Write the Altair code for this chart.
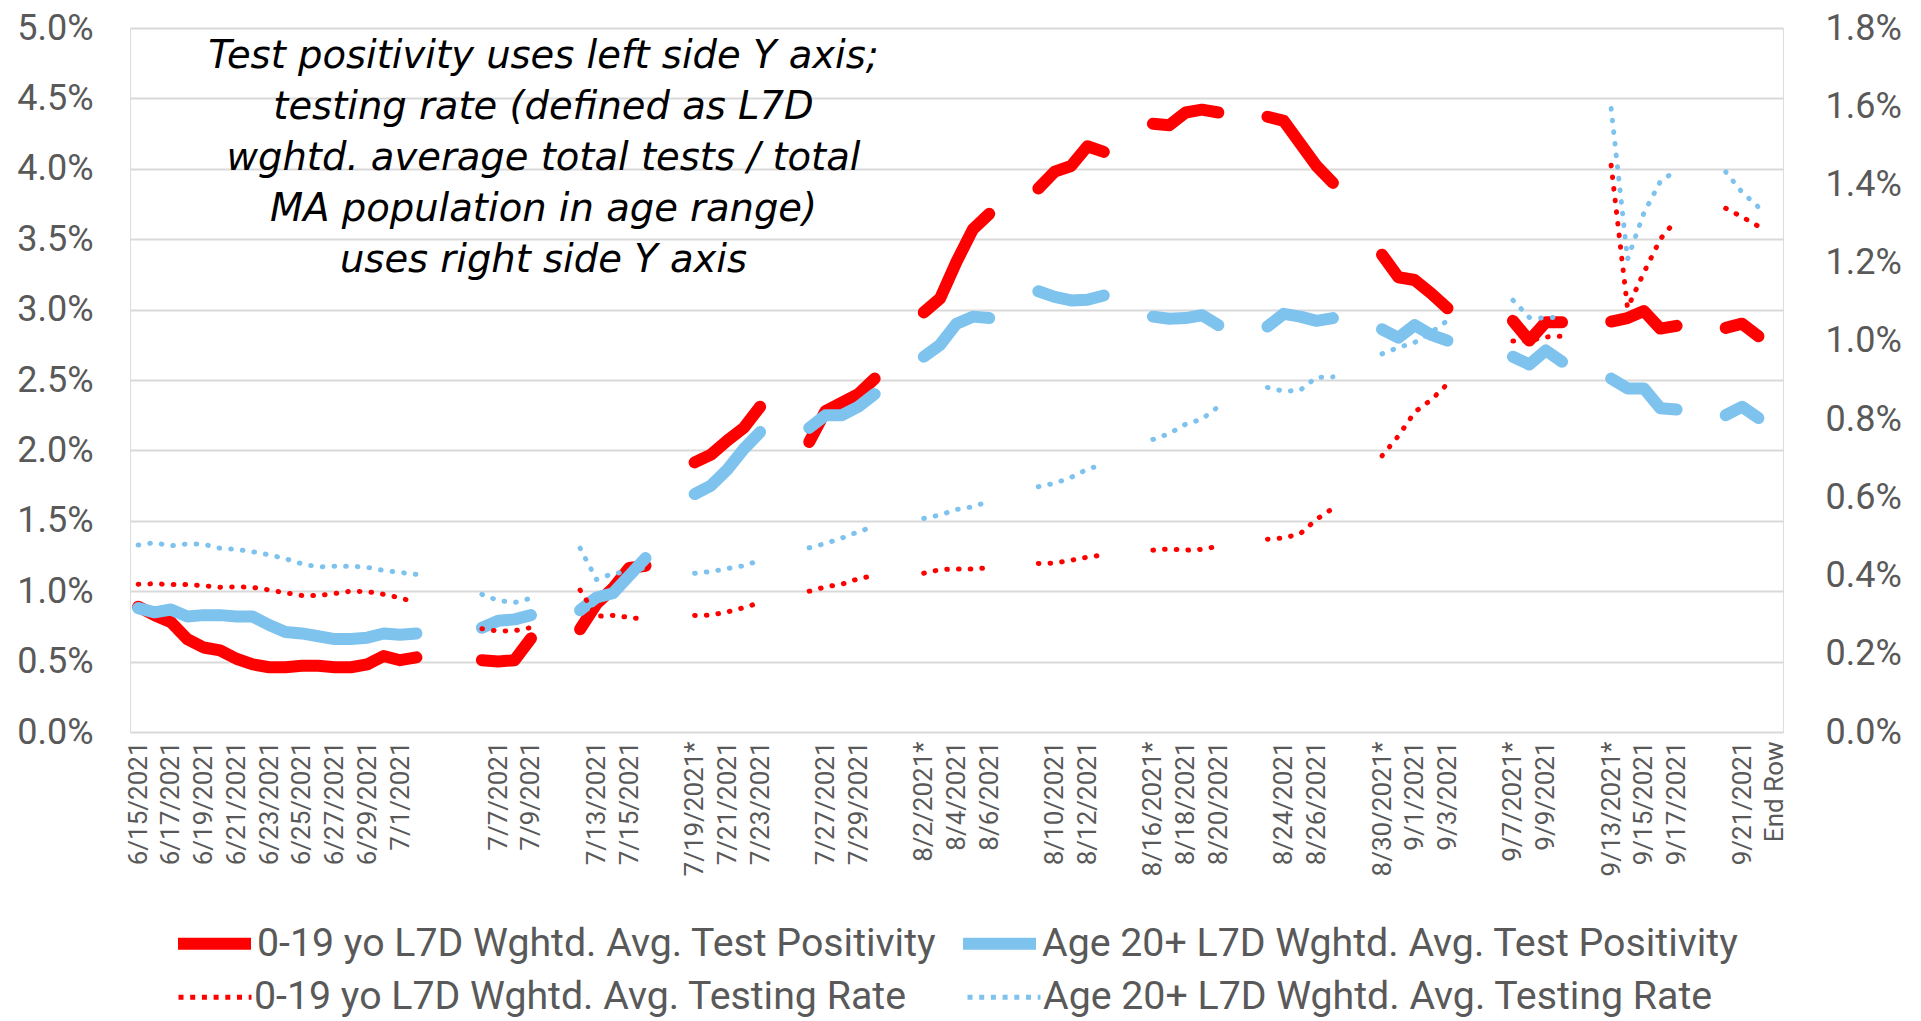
import json
import altair as alt
import pandas as pd

# ---------------- data ----------------
x_labels = [
    "6/15/2021", "6/16/2021", "6/17/2021", "6/18/2021", "6/19/2021", "6/20/2021",
    "6/21/2021", "6/22/2021", "6/23/2021", "6/24/2021", "6/25/2021", "6/26/2021",
    "6/27/2021", "6/28/2021", "6/29/2021", "6/30/2021", "7/1/2021", "7/2/2021",
    "", "", "",
    "7/6/2021", "7/7/2021", "7/8/2021", "7/9/2021",
    "", "",
    "7/12/2021", "7/13/2021", "7/14/2021", "7/15/2021", "7/16/2021",
    "", "",
    "7/19/2021*", "7/20/2021", "7/21/2021", "7/22/2021", "7/23/2021",
    "", "",
    "7/26/2021", "7/27/2021", "7/28/2021", "7/29/2021", "7/30/2021",
    "", "",
    "8/2/2021*", "8/3/2021", "8/4/2021", "8/5/2021", "8/6/2021",
    "", "",
    "8/9/2021", "8/10/2021", "8/11/2021", "8/12/2021", "8/13/2021",
    "", "",
    "8/16/2021*", "8/17/2021", "8/18/2021", "8/19/2021", "8/20/2021",
    "", "",
    "8/23/2021", "8/24/2021", "8/25/2021", "8/26/2021", "8/27/2021",
    "", "",
    "8/30/2021*", "8/31/2021", "9/1/2021", "9/2/2021", "9/3/2021",
    "", "", "",
    "9/7/2021*", "9/8/2021", "9/9/2021", "9/10/2021",
    "", "",
    "9/13/2021*", "9/14/2021", "9/15/2021", "9/16/2021", "9/17/2021",
    "", "",
    "9/20/2021", "9/21/2021", "9/22/2021",
    "End Row",
]

# 0-19 yo test positivity (%; left axis)
pos_0_19 = [
    0.89, 0.83, 0.78, 0.66, 0.60, 0.58, 0.52, 0.48, 0.46, 0.46, 0.47, 0.47, 0.46, 0.46, 0.48, 0.54, 0.51, 0.53,
    None, None, None,
    0.51, 0.50, 0.51, 0.665,
    None, None,
    0.73, 0.91, 1.02, 1.165, 1.18,
    None, None,
    1.915, 1.97, 2.07, 2.16, 2.31,
    None, None,
    2.06, 2.28, 2.34, 2.40, 2.51,
    None, None,
    2.98, 3.08, 3.34, 3.57, 3.68,
    None, None,
    3.86, 3.98, 4.02, 4.16, 4.12,
    None, None,
    4.32, 4.31, 4.40, 4.42, 4.40,
    None, None,
    4.37, 4.34, 4.18, 4.02, 3.90,
    None, None,
    3.39, 3.23, 3.21, 3.115, 3.01,
    None, None, None,
    2.92, 2.78, 2.91, 2.91,
    None, None,
    2.915, 2.94, 2.99, 2.865, 2.885,
    None, None,
    2.87, 2.90, 2.81,
    None,
]

# Age 20+ test positivity (%; left axis)
pos_20 = [
    0.88, 0.85, 0.87, 0.82, 0.83, 0.83, 0.82, 0.82, 0.76, 0.71, 0.70, 0.68, 0.66, 0.66, 0.67, 0.70, 0.69, 0.70,
    None, None, None,
    0.74, 0.79, 0.80, 0.83,
    None, None,
    0.865, 0.955, 0.985, 1.11, 1.235,
    None, None,
    1.69, 1.75, 1.865, 2.01, 2.13,
    None, None,
    2.16, 2.25, 2.25, 2.31, 2.40,
    None, None,
    2.665, 2.75, 2.90, 2.95, 2.94,
    None, None,
    3.13, 3.09, 3.065, 3.07, 3.10,
    None, None,
    2.95, 2.935, 2.94, 2.96, 2.89,
    None, None,
    2.88, 2.97, 2.95, 2.92, 2.94,
    None, None,
    2.86, 2.80, 2.89, 2.82, 2.78,
    None, None, None,
    2.665, 2.61, 2.71, 2.63,
    None, None,
    2.51, 2.44, 2.44, 2.30, 2.29,
    None, None,
    2.25, 2.31, 2.23,
    None,
]

# 0-19 yo testing rate (%; right axis)
rate_0_19 = [
    0.378, 0.379, 0.377, 0.377, 0.374, 0.370, 0.371, 0.370, 0.363, 0.356, 0.349, 0.349, 0.354, 0.360, 0.359, 0.352, 0.343, 0.331,
    None, None, None,
    0.264, 0.258, 0.259, 0.267,
    None, None,
    0.363, 0.296, 0.298, 0.293, 0.288,
    None, None,
    0.298, 0.299, 0.307, 0.318, 0.331,
    None, None,
    0.360, 0.371, 0.378, 0.392, 0.400,
    None, None,
    0.406, 0.415, 0.417, 0.417, 0.420,
    None, None,
    0.431, 0.432, 0.439, 0.447, 0.453,
    None, None,
    0.465, 0.468, 0.465, 0.467, 0.475,
    None, None,
    0.493, 0.496, 0.507, 0.544, 0.572,
    None, None,
    0.706, 0.757, 0.818, 0.849, 0.890,
    None, None, None,
    1.000, 1.000, 1.010, 1.012,
    None, None,
    1.449, 1.084, 1.175, 1.260, 1.310,
    None, None,
    1.339, 1.317, 1.293,
    None,
]

# Age 20+ testing rate (%; right axis)
rate_20 = [
    0.478, 0.484, 0.476, 0.481, 0.480, 0.470, 0.467, 0.461, 0.453, 0.443, 0.430, 0.422, 0.424, 0.424, 0.421, 0.413, 0.408, 0.403,
    None, None, None,
    0.352, 0.336, 0.331, 0.342,
    None, None,
    0.470, 0.390, 0.405, 0.410, 0.420,
    None, None,
    0.406, 0.410, 0.418, 0.425, 0.439,
    None, None,
    0.471, 0.482, 0.496, 0.512, 0.526,
    None, None,
    0.546, 0.555, 0.569, 0.576, 0.590,
    None, None,
    0.627, 0.636, 0.651, 0.672, 0.685,
    None, None,
    0.748, 0.763, 0.787, 0.800, 0.832,
    None, None,
    0.881, 0.871, 0.874, 0.907, 0.908,
    None, None,
    0.967, 0.983, 0.996, 1.022, 1.052,
    None, None, None,
    1.104, 1.060, 1.058, 1.062,
    None, None,
    1.594, 1.209, 1.327, 1.407, 1.437,
    None, None,
    1.432, 1.380, 1.342,
    None,
]

left_ticks = [0.0, 0.5, 1.0, 1.5, 2.0, 2.5, 3.0, 3.5, 4.0, 4.5, 5.0]
right_ticks = [0.0, 0.2, 0.4, 0.6, 0.8, 1.0, 1.2, 1.4, 1.6, 1.8]

S1 = "0-19 yo L7D Wghtd. Avg. Test Positivity"
S2 = "Age 20+ L7D Wghtd. Avg. Test Positivity"
S3 = "0-19 yo L7D Wghtd. Avg. Testing Rate"
S4 = "Age 20+ L7D Wghtd. Avg. Testing Rate"
RED = "#FF0000"
BLUE = "#7EC2EE"

note = ("Test positivity uses left side Y axis;\ntesting rate (defined as L7D\n"
        "wghtd. average total tests / total\nMA population in age range)\nuses right side Y axis")


def frame(name, values):
    rows = []
    seg = 0
    prev = None
    for i, v in enumerate(values):
        if v is None:
            continue
        if prev is None or i != prev + 1:
            seg += 1
        rows.append({"idx": i, "value": v, "seg": seg, "series": name})
        prev = i
    return pd.DataFrame(rows)


# ---------------- style ----------------
FONT = "Roboto"
GREY = "#595959"
W, H = 1653, 704
DOT_DASH = [0.6, 11.1]

label_array = json.dumps(x_labels)
x_enc = alt.X(
    "idx:O",
    scale=alt.Scale(type="point", domain=list(range(len(x_labels))), padding=0.5),
    axis=alt.Axis(
        title=None, labelAngle=270, labelFont=FONT, labelFontSize=26, labelColor=GREY,
        labelPadding=9, ticks=False, domain=False, grid=False, labelOverlap=False,
        labelExpr=f"datum.value % 2 == 0 ? {label_array}[datum.value] : ''",
    ),
)

legend_common = dict(
    title=None, orient="none", direction="horizontal", symbolType="stroke", symbolSize=5329,
    labelFont=FONT, labelFontSize=39.3, labelColor=GREY, labelLimit=0, padding=0,
)
legend_solid = alt.Legend(
    legendX=42, legendY=873, labelOffset=0, columnPadding=2, symbolStrokeWidth=12, **legend_common
)
legend_dot = alt.Legend(
    legendX=46, legendY=930, labelOffset=0, columnPadding=50, symbolStrokeWidth=5,
    symbolDash=[5, 6.7], **legend_common
)

color_solid = alt.Color("series:N", scale=alt.Scale(domain=[S1, S2], range=[RED, BLUE]), legend=legend_solid)
color_dot = alt.Color("series:N", scale=alt.Scale(domain=[S3, S4], range=[RED, BLUE]), legend=legend_dot)

left_axis = alt.Axis(
    title=None, orient="left", values=left_ticks, labelExpr="format(datum.value, '.1f') + '%'",
    grid=True, gridColor="#D9D9D9", gridWidth=2, domain=False, ticks=False,
    labelFont=FONT, labelFontSize=36, labelColor=GREY, labelPadding=37,
)
right_axis = alt.Axis(
    title=None, orient="right", values=right_ticks, labelExpr="format(datum.value, '.1f') + '%'",
    grid=False, domain=False, ticks=False,
    labelFont=FONT, labelFontSize=36, labelColor=GREY, labelPadding=42,
)


def solid_line(name, values):
    return alt.Chart(frame(name, values)).mark_line(
        strokeWidth=12, strokeCap="round", strokeJoin="round"
    ).encode(
        x=x_enc,
        y=alt.Y("value:Q", scale=alt.Scale(domain=[0, 5], nice=False), axis=left_axis),
        color=color_solid,
        detail="seg:N",
    )


def dotted_line(name, values):
    return alt.Chart(frame(name, values)).mark_line(
        strokeWidth=5, strokeDash=DOT_DASH, strokeCap="round", strokeJoin="round"
    ).encode(
        x=x_enc,
        y=alt.Y("value:Q", scale=alt.Scale(domain=[0, 1.8], nice=False), axis=right_axis),
        color=color_dot,
        detail="seg:N",
    )


note_layer = alt.Chart(pd.DataFrame({"t": [note]})).mark_text(
    font="DejaVu Sans", fontStyle="italic", fontSize=38.5, lineHeight=51, lineBreak="\n",
    align="center", baseline="middle", color="#000000",
).encode(x=alt.value(413.5), y=alt.value(28), text="t:N")

left_group = alt.layer(note_layer, solid_line(S1, pos_0_19), solid_line(S2, pos_20))
right_group = alt.layer(dotted_line(S3, rate_0_19), dotted_line(S4, rate_20))

chart = (
    alt.layer(left_group, right_group)
    .resolve_scale(y="independent", color="independent")
    .properties(width=W, height=H, padding={"left": 8, "top": 2, "right": 5, "bottom": 0})
    .configure_view(stroke=None)
    .configure(background="white")
)

chart.save("out.html", embed_options={"renderer": "svg", "actions": False})
